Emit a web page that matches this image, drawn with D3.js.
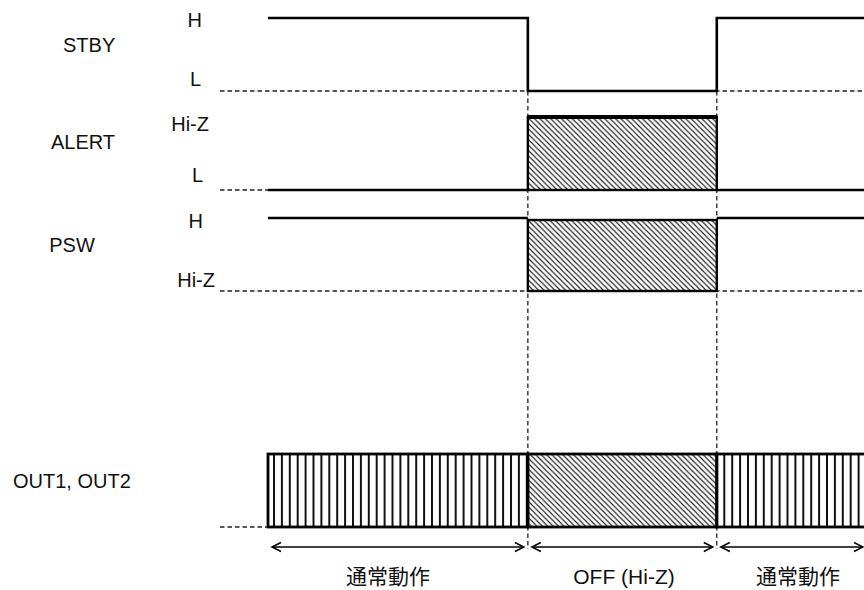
<!DOCTYPE html>
<html>
<head>
<meta charset="utf-8">
<script src="https://cdn.jsdelivr.net/npm/d3@7"></script>
<style>
  html, body { margin: 0; padding: 0; background: #fff; }
  svg { display: block; }
  text { font-family: "Liberation Sans", Arial, "Noto Sans CJK JP", sans-serif; fill: #111; }
</style>
</head>
<body>
<script>
// ---- data ----
const signalNames = ["STBY", "ALERT", "PSW", "OUT1, OUT2"];
const highLabels = ["H", "Hi-Z", "H", ""];
const lowLabels = ["L", "L", "Hi-Z", ""];
const rowPositions = [0, 0.99, 2, 4.36];
const edgeTimes = [0, 4.36, 7.53, 10.05];
const phaseLabels = ["通常動作", "OFF (Hi-Z)", "通常動作"];
const stbyStates = ["H", "L", "H"];
const alertStates = ["L", "Z", "L"];
const pswStates = ["H", "Z", "H"];
const outStates = ["drive", "Z", "drive"];

// ---- layout ----
const W = 864, H = 590;
const svg = d3.select("body").append("svg").attr("width", W).attr("height", H);

const x = d3.scaleLinear().domain([0, 10]).range([268, 864]);
const y = d3.scaleLinear().domain([0, 1]).range([18, 118]);
const levelH = 0.73;
const hiY = i => y(rowPositions[i]);
const loY = i => y(rowPositions[i] + levelH);

const defs = svg.append("defs");
const diag = defs.append("pattern").attr("id", "diag").attr("patternUnits", "userSpaceOnUse")
  .attr("width", 5.4).attr("height", 5.4);
diag.append("path").attr("d", "M0,0L5.4,5.4M-1,4.4L1,6.4M4.4,-1L6.4,1")
  .attr("stroke", "#222").attr("stroke-width", 1.2);
const vert = defs.append("pattern").attr("id", "vert").attr("patternUnits", "userSpaceOnUse")
  .attr("width", 7.9).attr("height", 10).attr("x", x(0) + 5);
vert.append("rect").attr("x", 0).attr("y", 0).attr("width", 2).attr("height", 10).attr("fill", "#111");

const dash = "4.5,3";

// dashed baselines
[0, 1, 2, 3].forEach(i => {
  svg.append("line").attr("x1", 220).attr("x2", W + 2)
    .attr("y1", loY(i)).attr("y2", loY(i))
    .attr("stroke", "#222").attr("stroke-width", 1.3).attr("stroke-dasharray", dash);
});

// dashed verticals at transitions
[edgeTimes[1], edgeTimes[2]].forEach(t => {
  svg.append("line").attr("x1", x(t)).attr("x2", x(t))
    .attr("y1", loY(0)).attr("y2", 549)
    .attr("stroke", "#222").attr("stroke-width", 1.3).attr("stroke-dasharray", dash);
});

// STBY step line
const stbyPts = stbyStates.map((s, k) => [edgeTimes[k], s === "H" ? hiY(0) : loY(0)]);
stbyPts.push([edgeTimes[3], stbyPts[stbyPts.length - 1][1]]);
svg.append("path")
  .attr("d", d3.line().x(d => x(d[0])).y(d => d[1]).curve(d3.curveStepAfter)(stbyPts))
  .attr("fill", "none").attr("stroke", "#000").attr("stroke-width", 2.6);

// ALERT / PSW
function drawTri(row, states) {
  states.forEach((s, k) => {
    const x0 = x(edgeTimes[k]), x1 = x(edgeTimes[k + 1]);
    if (s === "Z") {
      const top = row === 2 ? hiY(row) + 2 : hiY(row);
      svg.append("rect").attr("x", x0).attr("y", top)
        .attr("width", x1 - x0).attr("height", loY(row) - top)
        .attr("fill", "url(#diag)").attr("stroke", "#000").attr("stroke-width", 2.4);
      if (row === 1) {
        svg.append("line").attr("x1", x0).attr("x2", x1).attr("y1", top).attr("y2", top)
          .attr("stroke", "#000").attr("stroke-width", 4);
      }
    } else {
      const yy = s === "H" ? hiY(row) : loY(row);
      svg.append("line").attr("x1", x0).attr("x2", x1).attr("y1", yy).attr("y2", yy)
        .attr("stroke", "#000").attr("stroke-width", 2.4);
    }
  });
}
drawTri(1, alertStates);
drawTri(2, pswStates);

// OUT boxes
outStates.forEach((s, k) => {
  const x0 = x(edgeTimes[k]), x1 = x(edgeTimes[k + 1]);
  svg.append("rect").attr("x", x0).attr("y", hiY(3))
    .attr("width", x1 - x0).attr("height", loY(3) - hiY(3))
    .attr("fill", s === "Z" ? "url(#diag)" : "url(#vert)")
    .attr("stroke", "#000").attr("stroke-width", 2.8);
});

// signal names
const namePos = [[63, 52, "start"], [83, 149, "middle"], [72, 252, "middle"], [13, 488, "start"]];
signalNames.forEach((n, i) => {
  svg.append("text").attr("x", namePos[i][0]).attr("y", namePos[i][1])
    .attr("text-anchor", namePos[i][2]).attr("font-size", 20).text(n);
});

// level labels
const hiLabPos = [[202, 27], [209, 131], [203, 228], [0, 0]];
const loLabPos = [[201, 86], [203, 182], [215, 287], [0, 0]];
signalNames.forEach((n, i) => {
  if (highLabels[i]) svg.append("text").attr("x", hiLabPos[i][0]).attr("y", hiLabPos[i][1])
    .attr("text-anchor", "end").attr("font-size", 20).text(highLabels[i]);
  if (lowLabels[i]) svg.append("text").attr("x", loLabPos[i][0]).attr("y", loLabPos[i][1])
    .attr("text-anchor", "end").attr("font-size", 20).text(lowLabels[i]);
});

// phase arrows and labels
const ay = 547;
const labelCx = [388, 624, 798];
phaseLabels.forEach((p, k) => {
  const x0 = x(edgeTimes[k]) + 4, x1 = x(edgeTimes[k + 1]) - 4;
  svg.append("line").attr("x1", x0).attr("x2", x1).attr("y1", ay).attr("y2", ay)
    .attr("stroke", "#000").attr("stroke-width", 1.3);
  svg.append("path").attr("d", `M${x0 + 9},${ay - 4.5}L${x0},${ay}L${x0 + 9},${ay + 4.5}`)
    .attr("fill", "none").attr("stroke", "#000").attr("stroke-width", 1.5);
  svg.append("path").attr("d", `M${x1 - 9},${ay - 4.5}L${x1},${ay}L${x1 - 9},${ay + 4.5}`)
    .attr("fill", "none").attr("stroke", "#000").attr("stroke-width", 1.5);
  svg.append("text").attr("x", labelCx[k]).attr("y", 584)
    .attr("text-anchor", "middle").attr("font-size", 21).text(p);
});
</script>
</body>
</html>
